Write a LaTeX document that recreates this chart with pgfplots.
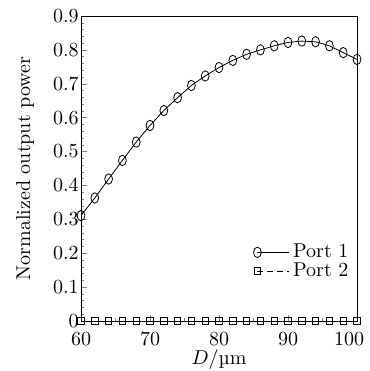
\documentclass[border=0pt]{standalone}
\usepackage{pgfplots}
\pgfplotsset{compat=1.18}
\begin{document}
\begin{tikzpicture}
\begin{axis}[
  width=138pt, height=152.5pt, scale only axis,
  xmin=60, xmax=100, ymin=0, ymax=0.9,
  xtick={60,70,80,90,100},
  xticklabels={60,70,80,90,{\makebox[0pt]{\hspace*{-8pt}100}}},
  ytick={0,0.1,0.2,0.3,0.4,0.5,0.6,0.7,0.8,0.9},
  yticklabels={0,0.1,0.2,0.3,0.4,0.5,0.6,0.7,0.8,0.9},
  minor x tick num=3, minor y tick num=4,
  tick align=inside,
  xtick pos=bottom, ytick pos=left,
  major tick length=3pt, minor tick length=1.5pt,
  yticklabel style={inner sep=1pt},
  xticklabel style={yshift=-2pt},
  xlabel={$D$/µm},
  ylabel={Normalized output power},
  xlabel style={yshift=5pt},
  ylabel style={yshift=5pt},
  legend style={draw=none, fill=none, at={(0.985,0.28)}, anchor=north east,
    inner xsep=0pt, row sep=-3pt, font=\normalsize},
  legend cell align=left,
  legend image code/.code={
    \draw[#1] (0cm,0cm) -- (0.55cm,0cm);
    \draw[#1, solid] plot coordinates {(0cm,0cm)};
  },
]
\coordinate (o) at (rel axis cs:0,0);
\coordinate (t) at (rel axis cs:1,1);
\addplot[black, thin, mark=o, mark options={solid, xscale=0.75}, mark size=2.6pt] coordinates {
(60,0.311)(62,0.363)(64,0.419)(66,0.474)(68,0.528)(70,0.577)(72,0.621)(74,0.659)
(76,0.695)(78,0.723)(80,0.748)(82,0.769)(84,0.787)(86,0.800)(88,0.812)(90,0.822)
(92,0.826)(94,0.824)(96,0.812)(98,0.792)(100,0.772)};
\addlegendentry{Port 1}
\addplot[black, thin, densely dashed, mark=square, mark options={solid}, mark size=1.6pt] coordinates {
(60,0)(62,0)(64,0)(66,0)(68,0)(70,0)(72,0)(74,0)(76,0)(78,0)(80,0)(82,0)(84,0)
(86,0)(88,0)(90,0)(92,0)(94,0)(96,0)(98,0)(100,0)};
\addlegendentry{Port 2}
\end{axis}
\pgfresetboundingbox
\path ([xshift=-40.5pt,yshift=-25pt]o) rectangle ([xshift=6pt,yshift=8pt]t);
\end{tikzpicture}
\end{document}
